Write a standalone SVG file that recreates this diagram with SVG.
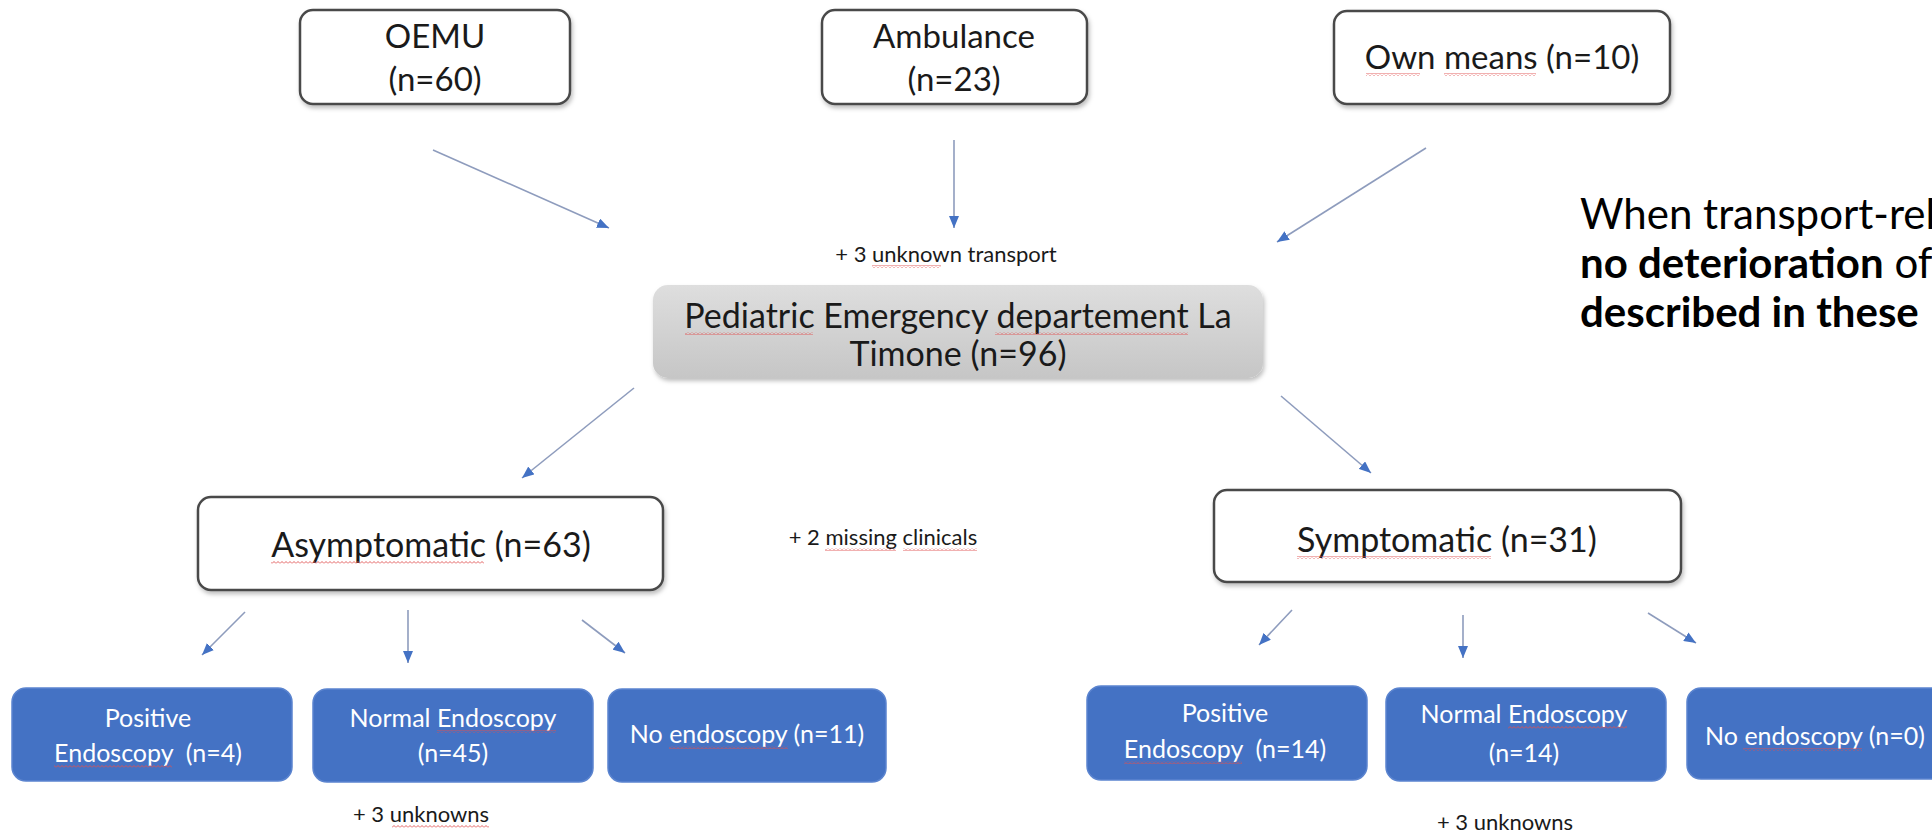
<svg xmlns="http://www.w3.org/2000/svg" width="1932" height="835" viewBox="0 0 1932 835">
  <defs>
    <style>
      .box { fill: #ffffff; stroke: #4a4a4a; stroke-width: 2.5; }
      .hub { fill: url(#hubFill); stroke: none; }
      .blue { fill: #4472c4; stroke: #5b84cf; stroke-width: 1.5; }
      .t { font-family: Lato, "Liberation Sans", sans-serif; fill: #1a1a1a; text-anchor: middle; }
      .top { font-size: 33px; }
      .mid { font-size: 34px; }
      .wt { font-family: Lato, "Liberation Sans", sans-serif; fill: #ffffff; text-anchor: middle; font-size: 25px; }
      .note { font-family: Lato, "Liberation Sans", sans-serif; fill: #1a1a1a; text-anchor: middle; font-size: 22px; }
      .side { font-family: Lato, "Liberation Sans", sans-serif; fill: #000000; font-size: 42px; }
      .sq { fill: url(#wave); }
      .link { stroke: #8e9cbd; stroke-width: 1.6; fill: none; marker-end: url(#head); }
    </style>
    <linearGradient id="hubFill" x1="0" y1="0" x2="0" y2="1">
      <stop offset="0" stop-color="#dedede"/>
      <stop offset="1" stop-color="#c6c6c6"/>
    </linearGradient>
    <!-- red zigzag used under flagged words -->
    <pattern id="wave" width="4" height="3" patternUnits="userSpaceOnUse">
      <path d="M0 2.5 L2 0.5 L4 2.5" fill="none" stroke="#e05050" stroke-width="0.9"/>
    </pattern>
    <filter id="shadow" x="-10%" y="-20%" width="120%" height="150%">
      <feDropShadow dx="1.5" dy="3" stdDeviation="2" flood-color="#000" flood-opacity="0.25"/>
    </filter>
    <marker id="head" viewBox="0 0 12 10" refX="12" refY="5" markerWidth="12" markerHeight="10" markerUnits="userSpaceOnUse" orient="auto">
      <path d="M0 0 L12 5 L0 10 Z" fill="#4472c4"/>
    </marker>
  </defs>
  <rect width="1932" height="835" fill="#ffffff"/>

  <!-- transport modes -->
  <g id="oemu">
    <rect class="box" x="300" y="10" width="270" height="94" rx="13" filter="url(#shadow)"/>
    <text class="t top" x="435" y="48">OEMU</text>
    <text class="t top" x="435" y="91">(n=60)</text>
  </g>
  <g id="ambulance">
    <rect class="box" x="822" y="10" width="265" height="94" rx="13" filter="url(#shadow)"/>
    <text class="t top" x="954" y="48">Ambulance</text>
    <text class="t top" x="954" y="91">(n=23)</text>
  </g>
  <g id="own-means">
    <rect class="box" x="1334" y="11" width="336" height="93" rx="13" filter="url(#shadow)"/>
    <text class="t top" x="1502" y="69"><tspan>Own</tspan> <tspan>means</tspan> (n=10)</text>
    <rect class="sq" x="1366" y="73" width="54" height="3"/>
    <rect class="sq" x="1444" y="73" width="92" height="3"/>
  </g>

  <!-- emergency department -->
  <g id="ped-ed">
    <rect class="hub" x="653" y="285" width="610" height="93" rx="15" filter="url(#shadow)"/>
    <text class="t mid" x="958" y="328"><tspan>Pediatric</tspan> Emergency <tspan>departement</tspan> La</text>
    <text class="t mid" x="958" y="366">Timone (n=96)</text>
    <rect class="sq" x="685" y="332" width="128" height="3"/>
    <rect class="sq" x="995" y="332" width="193" height="3"/>
  </g>
  <g id="note-transport">
    <text class="note" x="946" y="262">+ 3 <tspan>unknown</tspan> transport</text>
    <rect class="sq" x="872" y="265" width="69" height="3"/>
  </g>

  <!-- clinical status -->
  <g id="asymptomatic">
    <rect class="box" x="198" y="497" width="465" height="93" rx="13" filter="url(#shadow)"/>
    <text class="t mid" x="431" y="557"><tspan>Asymptomatic</tspan> (n=63)</text>
    <rect class="sq" x="271" y="561" width="213" height="3"/>
  </g>
  <g id="note-clinical">
    <text class="note" x="883" y="545">+ 2 <tspan>missing</tspan> <tspan>clinicals</tspan></text>
    <rect class="sq" x="825" y="548" width="71" height="3"/>
    <rect class="sq" x="903" y="548" width="74" height="3"/>
  </g>
  <g id="symptomatic">
    <rect class="box" x="1214" y="490" width="467" height="92" rx="13" filter="url(#shadow)"/>
    <text class="t mid" x="1447" y="552"><tspan>Symptomatic</tspan> (n=31)</text>
    <rect class="sq" x="1297" y="556" width="194" height="3"/>
  </g>

  <!-- endoscopy outcomes, asymptomatic branch -->
  <g id="asym-positive">
    <rect class="blue" x="12" y="688" width="280" height="93" rx="14"/>
    <text class="wt" x="148" y="727">Positive</text>
    <text class="wt" x="148" y="762" xml:space="preserve"><tspan>Endoscopy</tspan>  (n=4)</text>
    <rect class="sq" x="54" y="765" width="118" height="3"/>
  </g>
  <g id="asym-normal">
    <rect class="blue" x="313" y="689" width="280" height="93" rx="14"/>
    <text class="wt" x="453" y="727">Normal <tspan>Endoscopy</tspan></text>
    <text class="wt" x="453" y="762">(n=45)</text>
    <rect class="sq" x="437" y="730" width="119" height="3"/>
  </g>
  <g id="asym-none">
    <rect class="blue" x="608" y="689" width="278" height="93" rx="14"/>
    <text class="wt" x="747" y="743">No <tspan>endoscopy</tspan> (n=11)</text>
    <rect class="sq" x="669" y="746" width="119" height="3"/>
  </g>
  <g id="note-asym">
    <text class="note" x="421" y="822">+ 3 <tspan>unknowns</tspan></text>
    <rect class="sq" x="392" y="825" width="97" height="3"/>
  </g>

  <!-- endoscopy outcomes, symptomatic branch -->
  <g id="sym-positive">
    <rect class="blue" x="1087" y="686" width="280" height="94" rx="14"/>
    <text class="wt" x="1225" y="722">Positive</text>
    <text class="wt" x="1225" y="758" xml:space="preserve"><tspan>Endoscopy</tspan>  (n=14)</text>
    <rect class="sq" x="1124" y="761" width="118" height="3"/>
  </g>
  <g id="sym-normal">
    <rect class="blue" x="1386" y="688" width="280" height="93" rx="14"/>
    <text class="wt" x="1524" y="723">Normal <tspan>Endoscopy</tspan></text>
    <text class="wt" x="1524" y="762">(n=14)</text>
    <rect class="sq" x="1508" y="726" width="119" height="3"/>
  </g>
  <g id="sym-none">
    <rect class="blue" x="1687" y="688" width="262" height="91" rx="14"/>
    <text class="wt" x="1815" y="745">No <tspan>endoscopy</tspan> (n=0)</text>
    <rect class="sq" x="1743" y="748" width="119" height="3"/>
  </g>
  <text id="note-sym" class="note" x="1505" y="830">+ 3 unknowns</text>

  <!-- side remark -->
  <g id="remark">
    <text class="side" x="1580" y="229">When transport-related</text>
    <text class="side" x="1580" y="278"><tspan font-weight="bold">no deterioration</tspan> of</text>
    <text class="side" x="1580" y="327" font-weight="bold">described in these</text>
  </g>

  <!-- connectors -->
  <g id="connectors">
    <line class="link" x1="433" y1="150" x2="609" y2="228"/>
    <line class="link" x1="954" y1="140" x2="954" y2="228"/>
    <line class="link" x1="1426" y1="148" x2="1277" y2="242"/>
    <line class="link" x1="634" y1="388" x2="522" y2="478"/>
    <line class="link" x1="1281" y1="396" x2="1371" y2="473"/>
    <line class="link" x1="245" y1="612" x2="202" y2="655"/>
    <line class="link" x1="408" y1="610" x2="408" y2="663"/>
    <line class="link" x1="582" y1="620" x2="625" y2="653"/>
    <line class="link" x1="1292" y1="610" x2="1259" y2="645"/>
    <line class="link" x1="1463" y1="615" x2="1463" y2="658"/>
    <line class="link" x1="1648" y1="613" x2="1696" y2="643"/>
  </g>
</svg>
